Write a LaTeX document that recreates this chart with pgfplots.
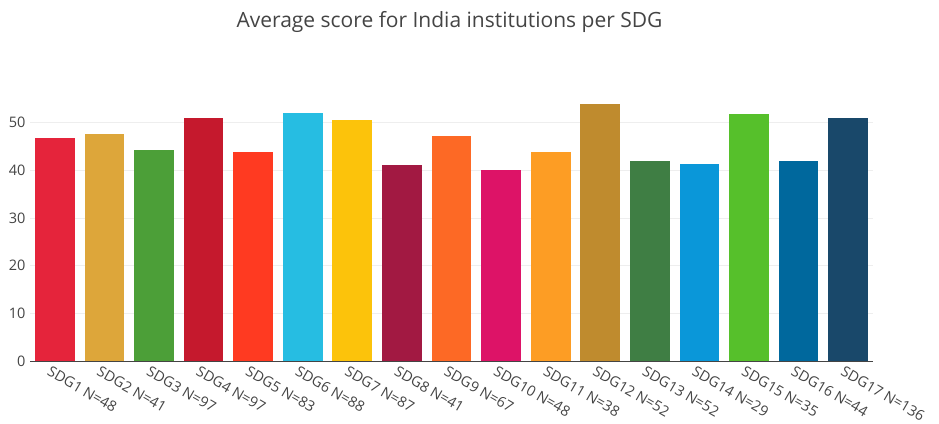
\documentclass[border=0pt]{standalone}
\usepackage{fontspec}
\setmainfont{Open Sans}
\usepackage{pgfplots}
\pgfplotsset{compat=1.18}
\definecolor{txt}{HTML}{444444}
\definecolor{gridc}{HTML}{EEEEEE}
\definecolor{s1}{HTML}{E5243B}
\definecolor{s2}{HTML}{DDA63A}
\definecolor{s3}{HTML}{4C9F38}
\definecolor{s4}{HTML}{C5192D}
\definecolor{s5}{HTML}{FF3A21}
\definecolor{s6}{HTML}{26BDE2}
\definecolor{s7}{HTML}{FCC30B}
\definecolor{s8}{HTML}{A21942}
\definecolor{s9}{HTML}{FD6925}
\definecolor{s10}{HTML}{DD1367}
\definecolor{s11}{HTML}{FD9D24}
\definecolor{s12}{HTML}{BF8B2E}
\definecolor{s13}{HTML}{3F7E44}
\definecolor{s14}{HTML}{0A97D9}
\definecolor{s15}{HTML}{56C02B}
\definecolor{s16}{HTML}{00689D}
\definecolor{s17}{HTML}{19486A}
\begin{document}
\begin{tikzpicture}[x=1bp,y=1bp]
\useasboundingbox (0,0) rectangle (939,423);
\node[font=\fontsize{21bp}{24bp}\selectfont, text=txt] at (449.5,401) {Average score for India institutions per SDG};
\begin{axis}[
  at={(30bp,62bp)}, anchor=south west,
  scale only axis, width=843bp, height=271.7bp,
  xmin=-0.5, xmax=16.5, ymin=0, ymax=57,
  axis x line*=bottom, axis y line*=left,
  x axis line style={-, color=txt, line width=1bp},
  y axis line style={draw=none},
  ymajorgrids, grid style={color=gridc, line width=1bp},
  ytick={0,10,20,30,40,50},
  xtick={0,...,16},
  xticklabels={SDG1 N=48,SDG2 N=41,SDG3 N=97,SDG4 N=97,SDG5 N=83,SDG6 N=88,SDG7 N=87,SDG8 N=41,SDG9 N=67,SDG10 N=48,SDG11 N=38,SDG12 N=52,SDG13 N=52,SDG14 N=29,SDG15 N=35,SDG16 N=44,SDG17 N=136},
  major tick length=0pt,
  /pgf/number format/assume math mode=true,
  ticklabel style={font=\fontsize{14.5bp}{17bp}\selectfont, text=txt},
  xticklabel style={rotate=-30, anchor=north west, xshift=-4bp, yshift=-2bp},
  yticklabel style={xshift=-1bp},
  every axis plot/.append style={ybar, bar width=0.8, bar shift=0pt, draw=none},
]
\addplot[fill=s1] coordinates {(0,46.7)};
\addplot[fill=s2] coordinates {(1,47.6)};
\addplot[fill=s3] coordinates {(2,44.2)};
\addplot[fill=s4] coordinates {(3,51.0)};
\addplot[fill=s5] coordinates {(4,43.8)};
\addplot[fill=s6] coordinates {(5,52.0)};
\addplot[fill=s7] coordinates {(6,50.6)};
\addplot[fill=s8] coordinates {(7,41.1)};
\addplot[fill=s9] coordinates {(8,47.1)};
\addplot[fill=s10] coordinates {(9,40.0)};
\addplot[fill=s11] coordinates {(10,43.9)};
\addplot[fill=s12] coordinates {(11,53.9)};
\addplot[fill=s13] coordinates {(12,41.9)};
\addplot[fill=s14] coordinates {(13,41.4)};
\addplot[fill=s15] coordinates {(14,51.8)};
\addplot[fill=s16] coordinates {(15,42.0)};
\addplot[fill=s17] coordinates {(16,51.0)};
\end{axis}
\end{tikzpicture}
\end{document}
